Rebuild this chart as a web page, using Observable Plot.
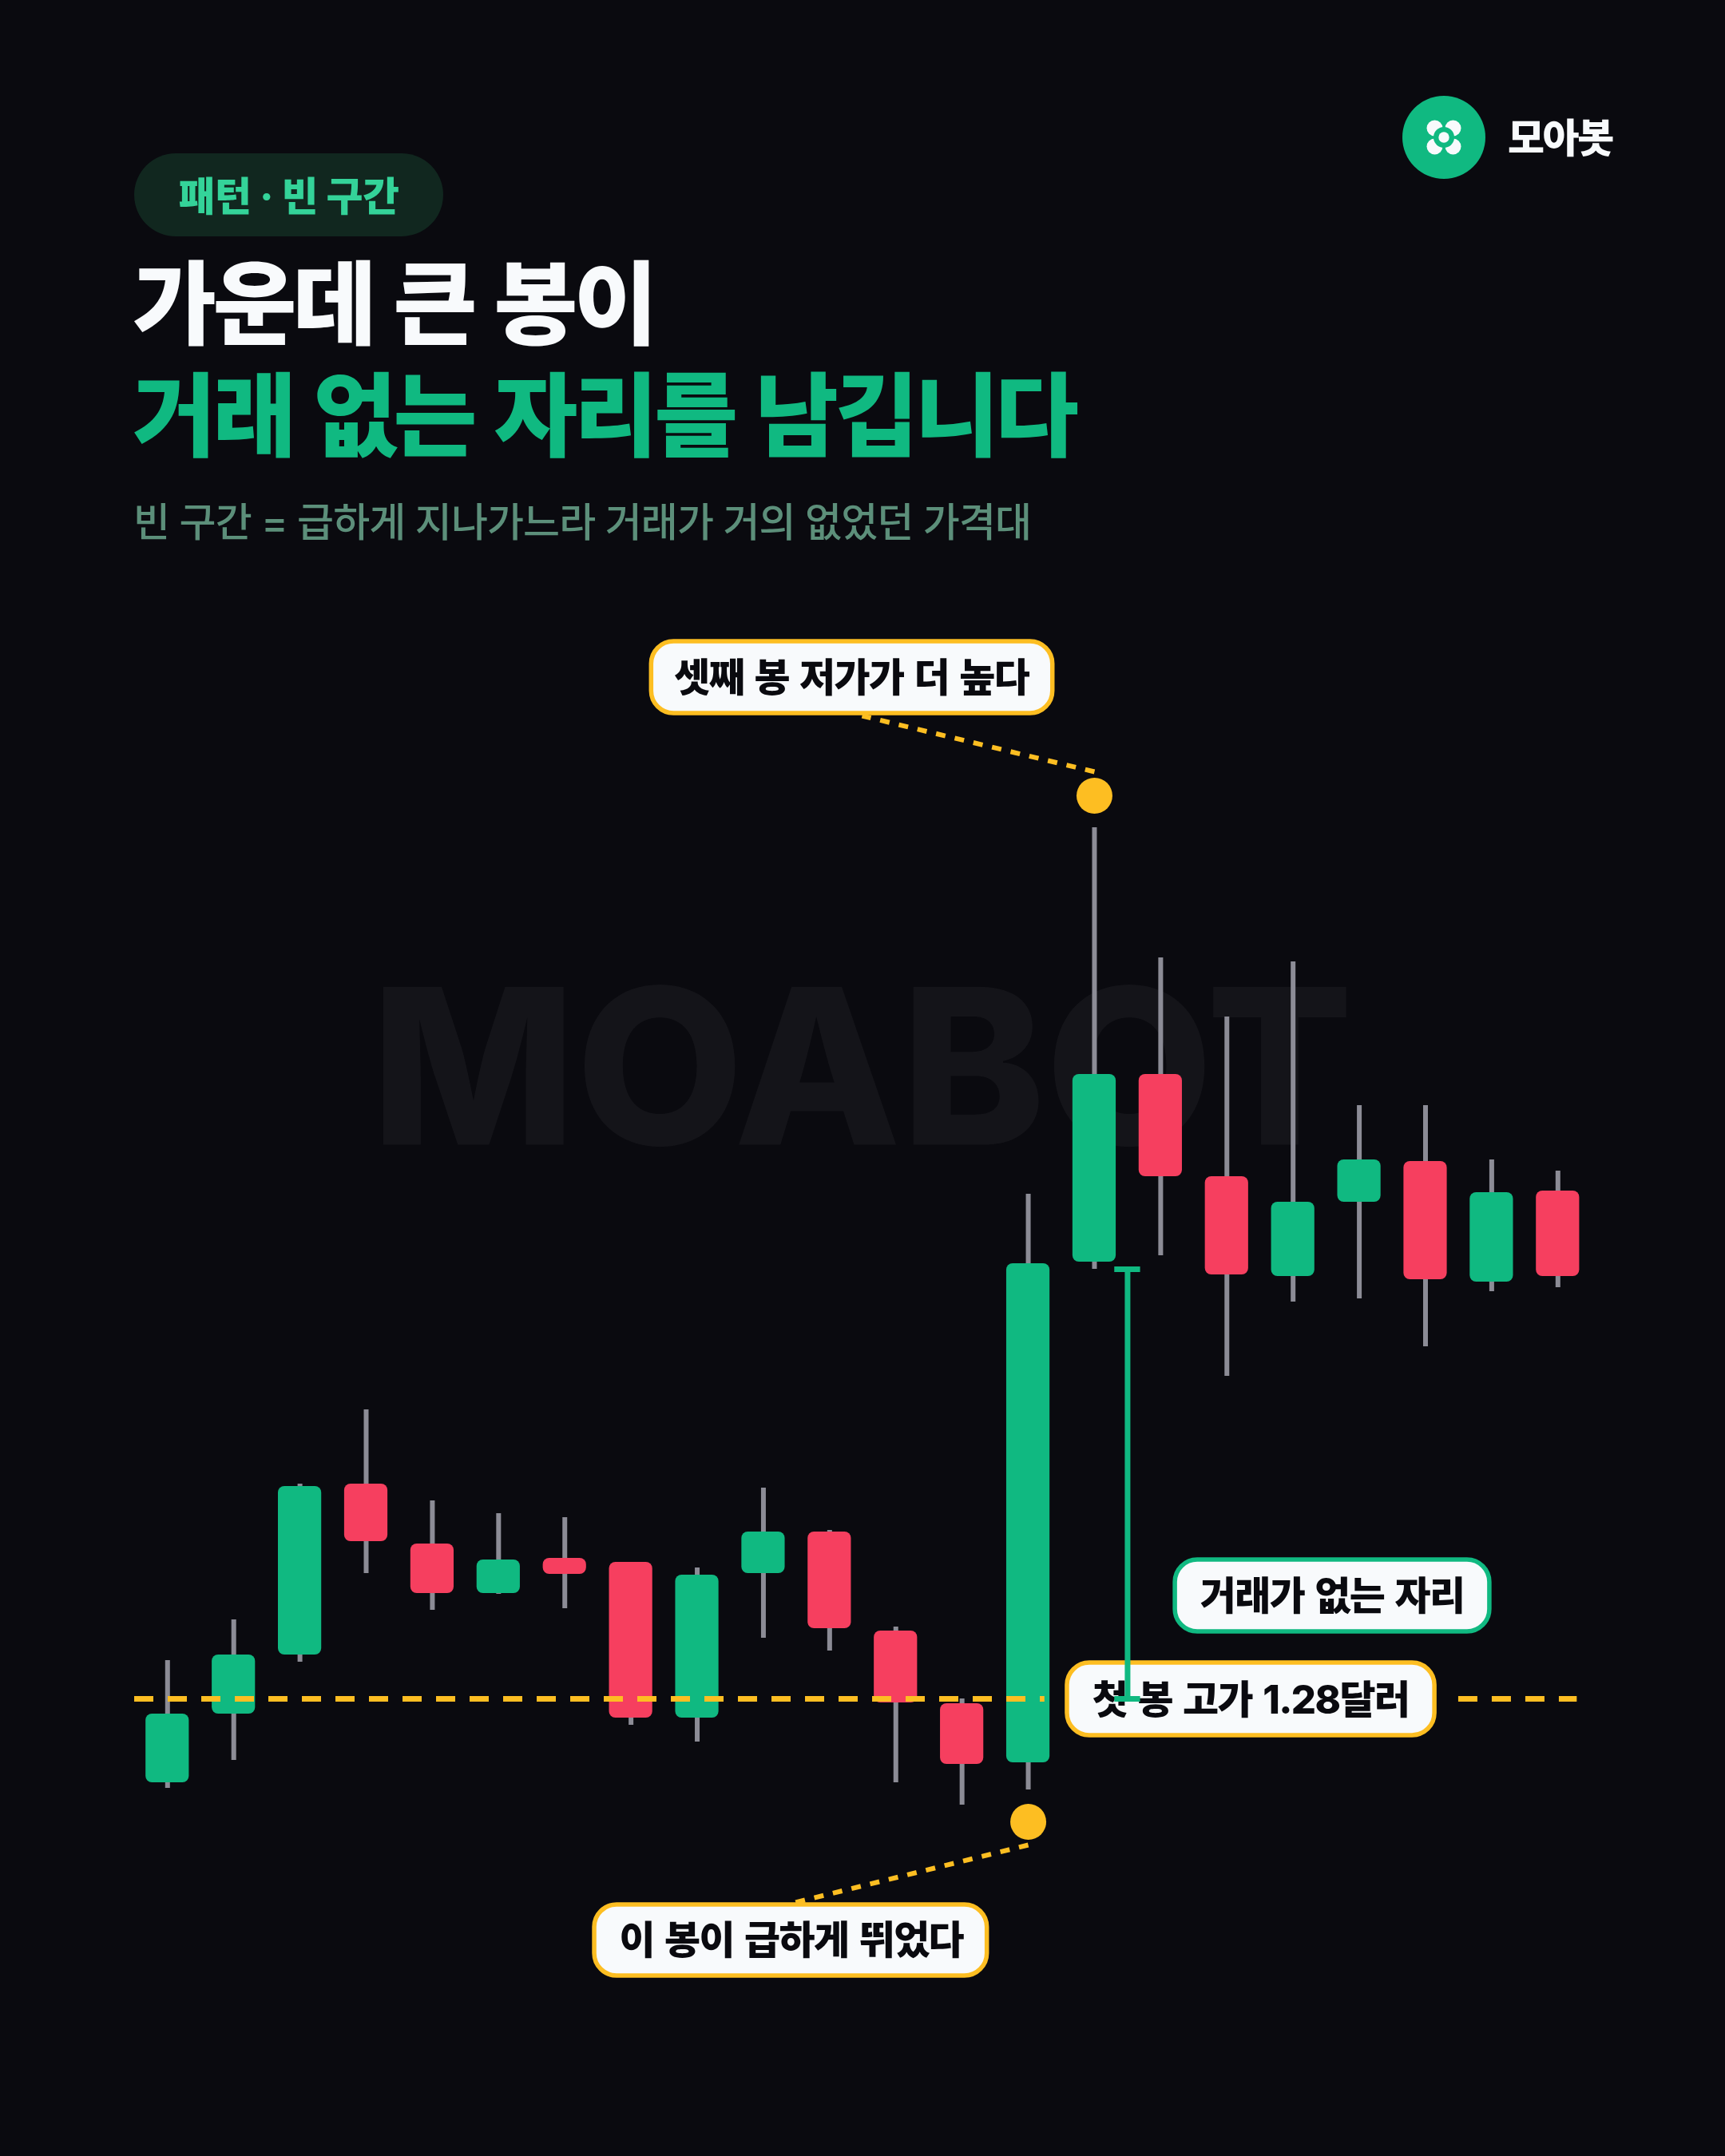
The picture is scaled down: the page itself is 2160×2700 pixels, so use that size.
<!DOCTYPE html>
<html lang="ko">
<head>
<meta charset="utf-8">
<script src="https://cdn.jsdelivr.net/npm/d3@7"></script>
<script src="https://cdn.jsdelivr.net/npm/@observablehq/plot@0.6"></script>
<style>
  html,body{margin:0;padding:0;background:#0a0a0f;}
  body{width:2160px;height:2700px;overflow:hidden;font-family:Inter,"Noto Sans CJK KR",sans-serif;}
  #head{position:relative;width:2160px;height:760px;}
  #head div{position:absolute;white-space:nowrap;line-height:1;}
  #pill{left:168px;top:192px;width:387px;height:104px;border-radius:52px;background:#11271f;}
  #tag{left:168px;width:387px;top:221px;text-align:center;font-size:50px;font-weight:800;color:#34d399;letter-spacing:-.5px;}
  #t1{left:166px;top:324px;font-size:114px;font-weight:800;color:#f8fafc;letter-spacing:-4.5px;word-spacing:5px;}
  #t2{left:166px;top:464px;font-size:114px;font-weight:800;color:#10b981;letter-spacing:-4.5px;word-spacing:5px;}
  #sub{left:167px;top:629px;font-size:50px;font-weight:500;color:#5c8f7a;letter-spacing:-.9px;}
  #brand{left:1888px;top:148px;font-size:50px;font-weight:800;color:#f8fafc;letter-spacing:-2.4px;}
  #logo{position:absolute;left:1756px;top:120px;}
  #chart svg{display:block;}
</style>
</head>
<body>
<div id="head">
  <svg id="logo" width="104" height="104" viewBox="-52 -52 104 104">
    <circle r="52" fill="#10b981"/>
    <g fill="#f8fafc">
      <circle cx="-11.5" cy="-11.5" r="10"/><circle cx="11.5" cy="-11.5" r="10"/>
      <circle cx="-11.5" cy="11.5" r="10"/><circle cx="11.5" cy="11.5" r="10"/>
    </g>
    <circle r="13" fill="#10b981"/>
    <circle r="6.7" fill="#f8fafc"/>
  </svg>
  <div id="brand">모아봇</div>
  <div id="pill"></div>
  <div id="tag">패턴 · 빈 구간</div>
  <div id="t1">가운데 큰 봉이</div>
  <div id="t2">거래 없는 자리를 남깁니다</div>
  <div id="sub">빈 구간 = 급하게 지나가느라 거래가 거의 없었던 가격대</div>
</div>
<div id="chart"></div>
<script>
// OHLC (dollars)
const opens  = [1.175,1.261,1.335,1.549,1.474,1.412,1.456,1.451,1.256,1.437,1.489,1.365,1.274,1.200,1.827,2.062,1.934,1.809,1.902,1.953,1.802,1.916];
const highs  = [1.328,1.379,1.549,1.642,1.528,1.512,1.507,1.451,1.444,1.544,1.491,1.370,1.280,1.912,2.371,2.208,2.134,2.203,2.023,2.023,1.955,1.941];
const lows   = [1.168,1.203,1.326,1.437,1.391,1.411,1.393,1.247,1.226,1.356,1.340,1.175,1.147,1.166,1.818,1.835,1.684,1.777,1.781,1.721,1.790,1.795];
const closes = [1.261,1.335,1.546,1.477,1.412,1.454,1.436,1.256,1.435,1.489,1.368,1.275,1.198,1.825,2.062,1.934,1.811,1.902,1.955,1.805,1.914,1.809];
const firstHigh = 1.28;          // 첫 봉 고가
const thirdLow  = 1.818;         // 셋째 봉 저가
const bigCandle = 13, thirdCandle = 14;

const dotValues = [1.126, 2.411];
const dotIndex  = [bigCandle, thirdCandle];

const calloutTexts = ["셋째 봉 저가가 더 높다","거래가 없는 자리","첫 봉 고가 1.28달러","이 봉이 급하게 뛰었다"];
const calloutStroke = ["#fdbe22","#10b981","#fdbe22","#fdbe22"];
const calloutX  = [10.33,17.59,16.36,9.42];
const calloutY  = [2.5575,1.4075,1.2775,0.9765];
const calloutX1 = [7.31,15.22,13.59,6.45];
const calloutX2 = [13.37,19.97,19.14,12.38];
const calloutY1 = [2.514,1.364,1.234,0.933];
const calloutY2 = [2.604,1.454,1.325,1.022];

const GREEN="#10b981", RED="#f63f5f", WICK="#8c8c96", AMBER="#fdbe22";

const candles = opens.map((o,i)=>({i,open:o,high:highs[i],low:lows[i],close:closes[i]}));
const callouts = calloutTexts.map((text,i)=>({text,stroke:calloutStroke[i],x:calloutX[i],y:calloutY[i],x1:calloutX1[i],x2:calloutX2[i],y1:calloutY1[i],y2:calloutY2[i]}));
const dots = dotValues.map((v,i)=>({x:dotIndex[i],y:v}));
const leaders = [
  {x1:thirdCandle,y1:2.441,x2:10.49,y2:2.511},
  {x1:bigCandle,y1:1.097,x2:9.48,y2:1.025}
];
const baseline = [{x1:-0.498,x2:13.25},{x1:19.5,x2:21.29}];
const halfBody = 0.327, capHalf = 0.195, gapX = 14.5;

const chart = Plot.plot({
  width:2160,height:1940,
  marginTop:0,marginRight:0,marginBottom:0,marginLeft:0,
  x:{type:"linear",domain:[0,21],range:[209.3,1950.3],axis:null},
  y:{type:"linear",domain:[0.707,2.647],range:[1940,0],axis:null},
  style:{background:"transparent",fontFamily:'Inter,"Noto Sans CJK KR",sans-serif',overflow:"visible"},
  marks:[
    Plot.text(["MOABOT"],{x:10.49,y:2.061,text:d=>d,fontSize:272,fontWeight:800,fill:"#ffffff",fillOpacity:0.045}),
    Plot.ruleX(candles,{x:"i",y1:"low",y2:"high",stroke:WICK,strokeWidth:6}),
    Plot.rect(candles,{filter:d=>d.close>=d.open,x1:d=>d.i-halfBody,x2:d=>d.i+halfBody,y1:"open",y2:"close",fill:GREEN,rx:8}),
    Plot.rect(candles,{filter:d=>d.close<d.open,x1:d=>d.i-halfBody,x2:d=>d.i+halfBody,y1:"open",y2:"close",fill:RED,rx:8}),
    Plot.ruleY(baseline,{y:()=>firstHigh,x1:"x1",x2:"x2",stroke:AMBER,strokeWidth:7,strokeDasharray:"24 18"}),
    Plot.link(leaders,{x1:"x1",y1:"y1",x2:"x2",y2:"y2",stroke:AMBER,strokeWidth:6,strokeDasharray:"12 12"}),
    Plot.dot(dots,{x:"x",y:"y",r:22.5,fill:AMBER}),
    Plot.rect(callouts,{x1:"x1",x2:"x2",y1:"y1",y2:"y2",fill:"#f8fafc",stroke:"stroke",strokeWidth:5.5,rx:28}),
    Plot.text(callouts,{x:"x",y:"y",text:"text",fontSize:49,fontWeight:800,fill:"#0a0a0f"}),
    Plot.ruleX([{x:gapX}],{x:"x",y1:()=>firstHigh,y2:()=>thirdLow,stroke:GREEN,strokeWidth:7}),
    Plot.ruleY([firstHigh,thirdLow],{y:d=>d,x1:()=>gapX-capHalf,x2:()=>gapX+capHalf,stroke:GREEN,strokeWidth:7})
  ]
});
d3.select(chart).selectAll("text")
  .filter(function(){return calloutTexts.includes(this.textContent);})
  .style("letter-spacing","-1.6px").style("word-spacing","4px");
document.getElementById("chart").appendChild(chart);
</script>
</body>
</html>
